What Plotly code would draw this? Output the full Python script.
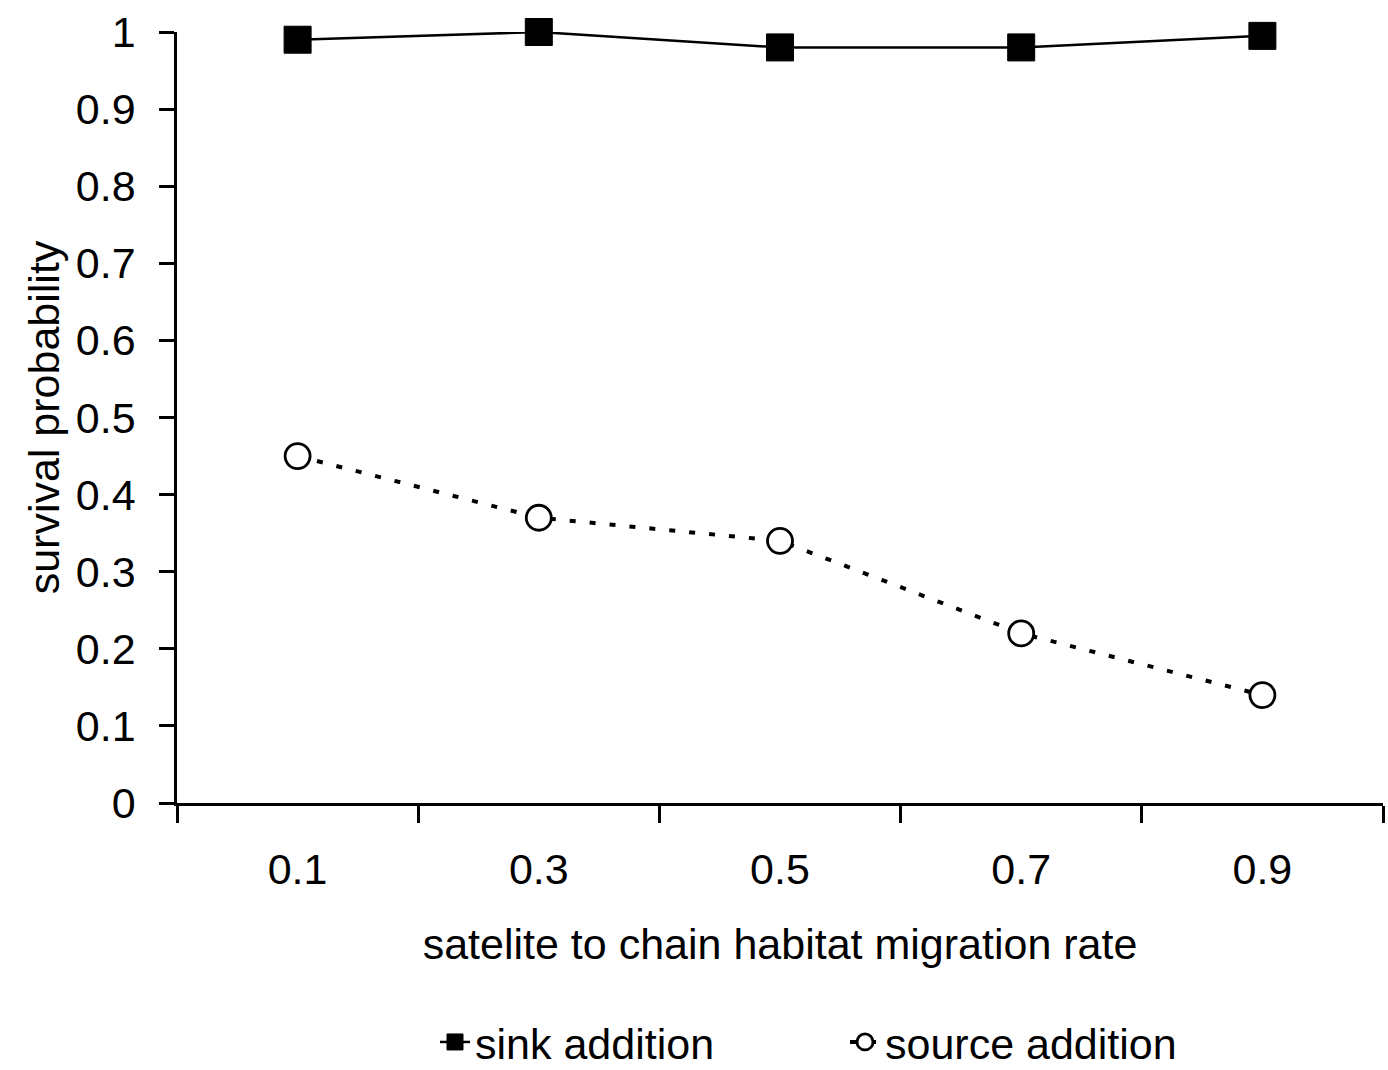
import plotly.graph_objects as go

categories = ["0.1", "0.3", "0.5", "0.7", "0.9"]
sink_addition = [0.99, 1.0, 0.98, 0.98, 0.995]
source_addition = [0.45, 0.37, 0.34, 0.22, 0.14]
y_ticks = [0, 0.1, 0.2, 0.3, 0.4, 0.5, 0.6, 0.7, 0.8, 0.9, 1]
y_tick_labels = ["0", "0.1", "0.2", "0.3", "0.4", "0.5", "0.6", "0.7", "0.8", "0.9", "1"]

FONT = "Liberation Sans, Arial, sans-serif"
FS = 43

fig = go.Figure()
fig.add_trace(go.Scatter(
    x=categories, y=sink_addition, name="sink addition",
    mode="lines+markers",
    line=dict(color="black", width=2.5),
    marker=dict(symbol="square", size=27, color="black", line=dict(color="black", width=1)),
    cliponaxis=False,
))
fig.add_trace(go.Scatter(
    x=categories, y=source_addition, name="source addition",
    mode="lines+markers",
    line=dict(color="black", width=4, dash="6px,14px"),
    marker=dict(symbol="circle", size=25, color="white", line=dict(color="black", width=2.8)),
    cliponaxis=False,
))

fig.update_layout(
    width=1388, height=1070,
    margin=dict(l=177, r=5, t=32, b=267, autoexpand=False),
    paper_bgcolor="white", plot_bgcolor="white",
    font=dict(family=FONT, size=FS, color="black"),
    showlegend=True,
    legend=dict(
        orientation="h", x=(435 - 177) / 1206, xanchor="left", y=-0.31, yanchor="middle",
        font=dict(size=FS), entrywidth=365, tracegroupgap=0,
        bgcolor="rgba(0,0,0,0)",
    ),
    xaxis=dict(
        type="category", range=[-0.5, 4.5],
        showline=True, linecolor="black", linewidth=2.5,
        ticks="outside", tickson="boundaries", ticklen=17, tickwidth=2.5, tickcolor="black",
        showgrid=False, zeroline=False,
        tickfont=dict(size=FS), ticklabelstandoff=27,
        title=dict(text="satelite to chain habitat migration rate", font=dict(size=FS), standoff=37),
        automargin=False,
    ),
    yaxis=dict(
        range=[0, 1], tickvals=y_ticks, ticktext=y_tick_labels,
        showline=True, linecolor="black", linewidth=2.5,
        ticks="outside", ticklen=15, tickwidth=2.5, tickcolor="black",
        showgrid=False, zeroline=False,
        tickfont=dict(size=FS), ticklabelstandoff=15,
        title=dict(text="survival probability", font=dict(size=FS), standoff=3),
        automargin=False,
    ),
)

fig.write_html("out.html", config={"displayModeBar": False},
               post_script="document.body.style.margin='0px';")
